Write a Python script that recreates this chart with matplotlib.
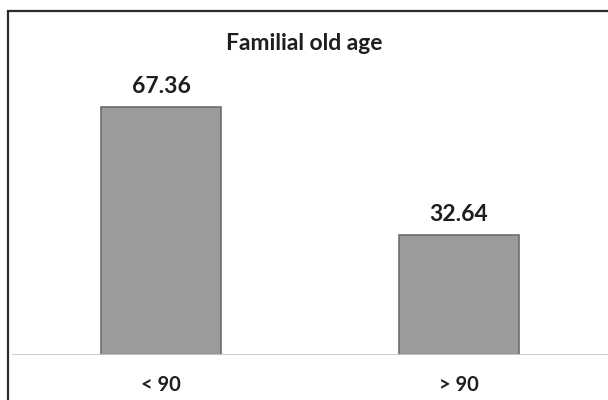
import matplotlib
matplotlib.use("Agg")
import matplotlib.pyplot as plt
from matplotlib.patches import Rectangle

categories = ["< 90", "> 90"]
values = [67.36, 32.64]
title = "Familial old age"

plt.rcParams['font.family'] = ['Lato', 'DejaVu Sans']

W, H = 608, 400
fig = plt.figure(figsize=(W / 100, H / 100), dpi=100)
fig.patch.set_facecolor("white")

# axes spans from the baseline up to the frame top
ax = fig.add_axes([12 / W, 45 / H, (W - 12) / W, (355 - 11) / H])
ax.set_xlim(-0.5, 1.5)
ax.set_ylim(0, 93.5)
ax.axis("off")

x = list(range(len(categories)))
ax.bar(x, values, width=0.405, color="#9b9b9d", edgecolor="#6e6e70", linewidth=1.2, zorder=2)
ax.axhline(0, color="#c9c9c9", linewidth=2.0, zorder=3)

for xi, v in zip(x, values):
    ax.annotate(f"{v:.2f}", (xi, v), xytext=(0, 15), textcoords="offset points",
                ha="center", va="center", fontsize=16.5, fontweight="bold", color="#1e1e1e")

for xi, c in zip(x, categories):
    ax.annotate(c, (xi, 0), xytext=(0, -21.5), textcoords="offset points",
                ha="center", va="center", fontsize=14.5, fontweight="bold", color="#1e1e1e")

fig.text(0.5, 1 - 44 / H, title, ha="center", va="center", fontsize=16.5,
         fontweight="bold", color="#1e1e1e")

# outer frame
fig.patches.append(Rectangle((8 / W, -0.05), 1.1, 1 - 11 / H + 0.05, transform=fig.transFigure,
                             fill=False, edgecolor="#2a2a2a", linewidth=1.6, zorder=10))

fig.savefig("out.png", dpi=100, facecolor="white")
